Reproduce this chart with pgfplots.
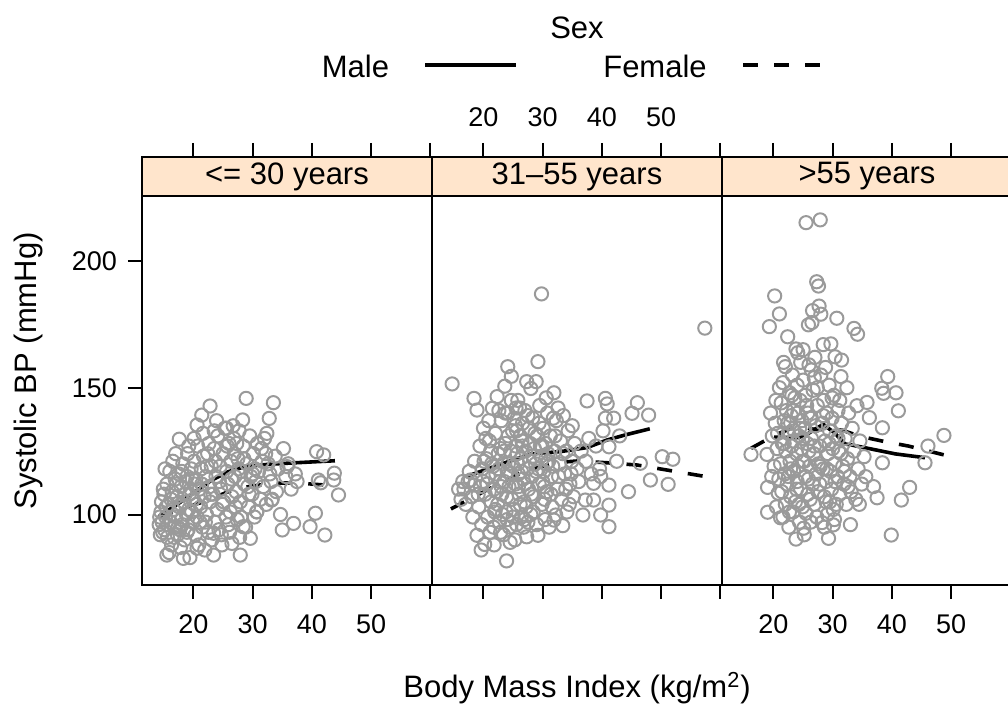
\documentclass[border=0pt]{standalone}
\usepackage{pgfplots}
\pgfplotsset{compat=1.18}
\usepackage{fontspec}
\setmainfont{Liberation Sans}
\definecolor{stripcol}{HTML}{FFE5CC}
\definecolor{ptcol}{HTML}{9A9A9A}

\pgfplotstableread{
x y
14.2 96
14.5 101
14.8 93
15.0 108
15.3 99
15.5 112
15.6 91
15.8 104
16.0 117
16.1 97
16.3 88
16.4 109
16.6 102
16.8 95
16.9 114
15.2 118
14.6 105
15.9 85
16.5 121
14.9 110
15.5 84
17.0 99
17.2 107
17.3 92
17.5 116
17.6 103
17.8 87
17.9 111
18.1 96
18.2 120
18.4 105
18.5 90
18.7 113
18.8 100
19.0 124
19.1 94
19.3 108
19.4 83
19.6 118
19.7 101
19.9 97
17.6 129.7
18.3 82.7
18.9 115
19.5 110
17.7 94
20.0 106
20.1 121
20.3 92
20.4 114
20.6 99
20.7 127
20.9 88
21.0 110
21.2 103
21.3 118
21.5 95
21.6 132
21.8 107
21.9 86
22.1 115
22.2 100
22.4 124
22.5 93
22.7 111
22.8 105
23.0 119
20.6 135.3
21.4 139.2
22.8 142.8
20.6 86.7
22.0 97
21.7 123
20.2 112
23.1 90
22.6 128
23.4 92.6
23.3 108
23.5 126
23.6 97
23.8 115
24.0 102
24.1 131
24.3 94
24.5 119
24.6 110
24.8 88
25.0 124
25.1 105
25.3 134
25.5 99
25.6 117
25.8 112
26.0 128
26.1 93
26.3 121
26.5 107
26.5 88.6
26.8 130
27.0 115
23.9 137
25.4 134
24.7 92
26.2 101
23.4 84
25.9 96
26.9 124
27.2 109
27.4 98
27.5 122
27.7 133
27.9 105
28.1 117
27.9 84
28.4 127
28.6 112
28.8 95
29.0 120
28.9 145.8
29.3 103
29.5 131
29.7 115
29.9 108
30.1 124
30.3 99
30.5 113
30.7 101
30.8 128
27.8 91
28.3 137.3
29.6 90.6
30.4 118
25.6 134
27.3 128
29.2 111
31.0 117
31.3 106
31.5 126
31.8 111
32.0 130
32.3 104
32.6 120
32.4 132
33.1 113
33.3 106
33.5 144.1
33.8 123
34.0 109
34.3 118
34.7 100
35.0 93.9
35.2 126
35.6 115
35.8 118.9
36.0 120
36.5 110
36.9 96.5
37.2 116
37.5 113
32.2 124
32.8 137.9
33.2 105.7
30.7 101.1
28.4 95.2
39.7 95.2
40.6 100.5
40.8 124.8
41.1 113.6
41.5 112.5
42.0 123.5
42.2 91.9
43.7 113.6
43.8 116.3
44.5 107.7
14.3 99
14.4 92
14.7 97
15.1 94
15.4 103
15.7 96
16.2 106
16.7 91
17.1 112
17.4 95
17.9 104
18.0 98
18.6 108
18.9 93
19.2 102
19.8 114
20.5 104
21.1 97
21.4 112
22.3 119
22.9 108
23.7 121
24.4 113
24.9 104
25.7 127
26.4 114
27.1 103
27.6 118
28.0 99
28.5 122
29.4 108
30.0 116
31.6 121
32.9 116
17.0 124
18.0 117
19.2 127
20.1 130
23.5 133
26.7 135
}\panelAsc

\pgfplotstableread{
x y
14.7 151.5
15.8 110
16.2 106
16.7 110
17.0 104
17.4 113
17.8 113.6
18.2 99
18.4 111.6
18.4 145.8
18.9 141.2
18.9 91.8
18.5 121
18.0 107
17.6 117
16.5 113
19.2 103
19.4 127
19.5 111
19.7 96
19.8 118
20.0 134
20.2 88.2
20.3 108
20.5 122
20.7 99
20.8 115
21.0 129
21.1 93
21.3 105
21.5 141.9
21.6 119
21.8 110
21.9 101
19.6 86
20.9 137
21.2 125
21.7 95
19.9 113
20.4 130
22.0 132
22.1 116
22.3 146.5
22.4 104
22.5 124
22.7 97
22.8 113
23.0 137
23.1 108
23.3 120
23.4 92
23.6 150.6
23.7 128
23.8 101
24.0 117
24.1 140
24.1 158.3
24.3 111
24.4 95
24.6 125
24.7 154.5
24.8 106
24.9 133
23.9 81.7
22.6 141
23.2 100
24.2 120
22.9 126
24.5 89
23.5 113
22.2 109
24.7 145
25.0 119
25.1 102
25.2 138
25.4 112
25.5 127
25.6 96
25.8 145
25.9 116
26.0 108
26.2 131
26.3 122
26.4 99
26.6 136
26.7 114
26.9 105
27.0 141
27.1 125
27.3 152.4
27.3 91.2
27.4 118
27.6 110
27.7 134
27.9 128
28.0 149.7
28.0 100
25.3 90
26.1 142
26.8 95
25.7 124
26.5 129
27.2 103
27.8 121
25.9 111
26.4 117
27.5 97
25.6 133
28.2 115
28.3 138
28.5 107
28.6 126
28.8 120
28.9 152.4
29.0 96
29.1 131
29.2 160.3
29.2 91.8
29.4 112
29.5 143
29.7 123
29.8 187
29.9 104
30.1 134
30.2 117
30.4 98
30.5 128
30.7 109
30.8 140
31.0 121
28.4 101
29.3 118
30.0 113
30.6 146
28.7 132
29.6 127
30.3 106
31.1 95
31.3 131
31.5 115
31.6 103
31.9 148
31.9 97.8
32.0 125
32.2 99.8
32.3 137
32.5 110
32.8 120
33.0 129
33.2 106
33.4 95.6
33.5 139
33.7 116
34.0 125
34.1 101
34.3 133
34.6 112
34.9 121
35.2 107
35.4 128
35.8 118
36.1 113
36.5 125
32.6 142
33.9 110
35.0 135
31.7 119
34.5 104
36.8 99.8
37.2 105.7
37.3 121
37.5 144.8
37.8 130
38.2 116
38.6 105.7
38.6 112.3
39.0 127
39.6 118
39.8 99.8
39.8 115
40.2 133
40.6 145.8
40.9 143.6
40.6 138
41.2 126.7
41.2 111.6
41.2 103.7
41.2 95.2
42.0 138
42.5 121
43.0 131
44.5 109
45.1 139.9
46.0 144.1
46.5 120.2
47.9 139.2
48.2 113.6
50.2 122.8
52.0 121.8
51.2 111.9
57.4 173.5
20.6 112
21.4 120
22.0 102
22.6 118
23.0 111
23.5 125
23.9 107
24.2 131
24.6 116
25.0 99
25.4 135
25.8 120
26.2 104
26.6 127
27.0 112
27.5 139
28.1 108
28.4 123
28.9 117
29.4 136
29.9 127
30.3 111
30.9 124
31.4 108
32.1 131
32.7 115
33.4 124
21.8 88
22.9 93
24.0 98
26.9 98
20.1 121
19.1 108
23.7 140
25.5 142
30.6 120
31.8 138
34.8 116
}\panelBsc

\pgfplotstableread{
x y
16.2 123.7
18.9 123.7
19.0 110.7
20.8 108.4
19.0 100.9
21.2 98.7
19.3 174.1
20.2 186.2
21.0 179.1
19.5 140
19.8 131
20.1 119
20.4 145
20.6 126
20.9 114
20.5 103
19.7 115
20.3 136
21.0 150
20.7 132
21.2 120
21.3 144
21.4 109
21.5 128
21.6 152
21.7 160
21.8 137
21.9 116
22.0 158.3
22.0 104
22.1 125
22.2 141
22.3 112
22.4 170.1
22.5 132
22.6 95
22.7 148
22.8 121
22.9 107
23.0 139
23.1 127
23.2 155
23.3 101
23.4 117
23.5 133
23.6 146
23.7 105
23.8 165.3
23.8 90.3
23.9 124
24.0 113
24.1 163.8
24.1 140
21.6 99
22.5 115
23.3 129
24.0 151
22.9 136
24.2 119
24.3 131
24.4 97
24.5 145
24.6 110
24.7 126
24.8 137
24.9 103
25.0 153
25.1 94.6
25.2 121
25.3 134
25.4 115
25.5 100.5
25.5 215.1
25.6 143
25.7 128
25.8 108
25.9 174.8
26.0 159
26.1 119
26.2 138
26.3 97
26.4 130
26.5 175.7
26.6 180.4
26.6 112
26.7 149
26.8 124
26.9 104
27.0 162
27.1 135
27.2 116
27.3 191.8
27.4 143
27.5 109
27.6 190.1
27.7 182.2
27.8 127
27.9 216.2
28.0 179
28.0 155
28.2 96.8
24.6 160
25.2 92
26.0 125
27.3 99
27.6 120
25.8 140
26.4 157
24.9 130
28.3 136
28.4 118
28.5 145
28.6 107
28.7 129
28.8 158
28.9 113
29.0 140
29.1 100
29.2 124
29.3 90.6
29.4 151
29.5 133
29.6 117
29.7 167.3
29.8 110
29.9 138
30.0 126
30.1 95.9
30.2 147
30.3 120
30.4 162.2
30.5 131
30.6 104
30.7 177.4
30.8 115
30.9 141
31.0 125
31.2 108
31.4 154.4
31.5 160.9
31.5 136
31.7 119
31.9 112
28.6 95
29.5 105
30.3 98
31.2 145
32.1 130
32.3 104
32.5 122
32.7 140
32.9 115
33.1 109
33.3 134
33.6 173.4
33.6 125
33.9 106
34.1 142.9
34.2 171.1
34.3 118
34.6 129
34.9 112
35.3 122.8
35.6 114.9
35.8 144.2
36.2 138.2
32.4 150
33.0 96
34.5 104
36.9 111
37.5 106.6
38.3 149.8
38.4 134.2
38.4 120.4
38.6 147.8
39.3 154.4
39.9 91.9
40.7 148
41.1 140.9
41.6 105.7
43.0 110.7
45.6 120.4
46.1 127
48.8 131.2
21.8 128
22.4 136
22.9 118
23.4 141
23.9 110
24.4 134
24.9 121
25.4 147
25.9 114
26.4 138
26.9 127
27.4 150
27.9 119
28.4 139
28.9 105
29.4 128
29.9 146
30.4 113
30.9 130
31.4 124
32.0 117
32.6 111
22.7 101
24.3 104
26.2 106
27.8 112
29.0 118
30.1 102
25.0 165
26.9 154
28.4 167
23.1 147
}\panelCsc

\pgfplotsset{
  panel/.style={
    at={(#1pt,60.5pt)}, anchor=south west, scale only axis,
    width=145pt, height=214pt,
    xmin=11.3, xmax=60.3, ymin=72.2, ymax=241.0,
    xtick={20,30,40,50,60}, xticklabels={20,30,40,50,{}},
    tick align=outside, major tick length=7pt,
    xtick pos=both,
    xticklabel shift=4.5pt,
    yticklabel shift=2pt,
    axis line style={line width=1pt},
    every tick/.style={line width=1pt, black},
    tick label style={font=\fontsize{13.5}{15}\selectfont},
    axis on top, clip=true,
  },
  pts/.style={only marks, mark=o, mark size=3.3pt, color=ptcol, mark options={line width=1pt}},
  male/.style={no marks, black, line width=1.8pt},
  female/.style={no marks, black, line width=1.8pt, dash pattern=on 7.5pt off 8pt},
}
\newcommand{\strip}[1]{%
  \fill[stripcol] (axis cs:11.3,225.6) rectangle (axis cs:60.3,241.0);
  \draw[line width=1pt] (axis cs:11.3,225.6) -- (axis cs:60.3,225.6);
  \node[font=\fontsize{15.5}{18}\selectfont] at (axis cs:35.8,233.3) {#1};
}

\begin{document}
\begin{tikzpicture}[x=1pt,y=1pt]
\path[use as bounding box] (0,0) rectangle (504,353);

\begin{axis}[panel=71, xticklabel pos=lower, ytick={100,150,200}, yticklabels={100,150,200}, ytick pos=left]
\strip{<= 30 years}
\addplot[pts] table {\panelAsc};
\addplot[male] coordinates {(14.1,99.1) (17.5,104.4) (20.3,109) (23.1,113.6) (25.9,116.9) (28.7,118.9) (32.7,119.8) (37.2,120.4) (43.9,121.2)};
\addplot[female] coordinates {(14.1,99.1) (18,102.4) (21.7,105) (25.9,109) (29.3,111) (33.2,112.3) (37.2,112.5) (42.3,111.6)};
\end{axis}

\begin{axis}[panel=216, xticklabel pos=upper, ytick=\empty]
\strip{31--55 years}
\addplot[pts] table {\panelBsc};
\addplot[male] coordinates {(17,114.9) (22.3,119.3) (27.9,123.9) (33,124.8) (37.5,126.4) (40.9,129.4) (44.3,131.6) (48.1,133.8)};
\addplot[female] coordinates {(14.5,102.2) (20.6,109.7) (26.2,116.3) (31.9,120.4) (35.8,121.1) (40.9,120.4) (46,119.5) (51.6,117.3) (57.7,114.9)};
\end{axis}

\begin{axis}[panel=361, xticklabel pos=lower, ytick=\empty]
\strip{>55 years}
\addplot[pts] table {\panelCsc};
\addplot[male] coordinates {(20.1,130.5) (24.2,130.3) (25.9,132) (28.4,135.6) (30.4,132) (32.1,127.8) (33.2,127.4) (40.6,123.9) (45.6,122.4)};
\addplot[female] coordinates {(16.2,126.1) (20.3,131.4) (23.7,134.6) (27,133.6) (31.5,133.3) (34.9,130.7) (38.9,128.7) (42.8,127) (49,123.4)};
\end{axis}

\node[rotate=90, font=\fontsize{15.5}{18}\selectfont] at (14,167.5) {Systolic BP (mmHg)};
\node[font=\fontsize{15.5}{18}\selectfont] at (288.5,9) {Body Mass Index (kg/m\textsuperscript{2})};
\node[font=\fontsize{15.5}{18}\selectfont] at (288.5,339) {Sex};
\node[font=\fontsize{15.5}{18}\selectfont] at (177.75,320) {Male};
\node[font=\fontsize{15.5}{18}\selectfont] at (327.5,320) {Female};
\draw[line width=1.8pt] (212.5,320.5) -- (258,320.5);
\draw[line width=1.8pt, dash pattern=on 7.5pt off 8pt] (371.5,320.5) -- (411.5,320.5);
\end{tikzpicture}
\end{document}
